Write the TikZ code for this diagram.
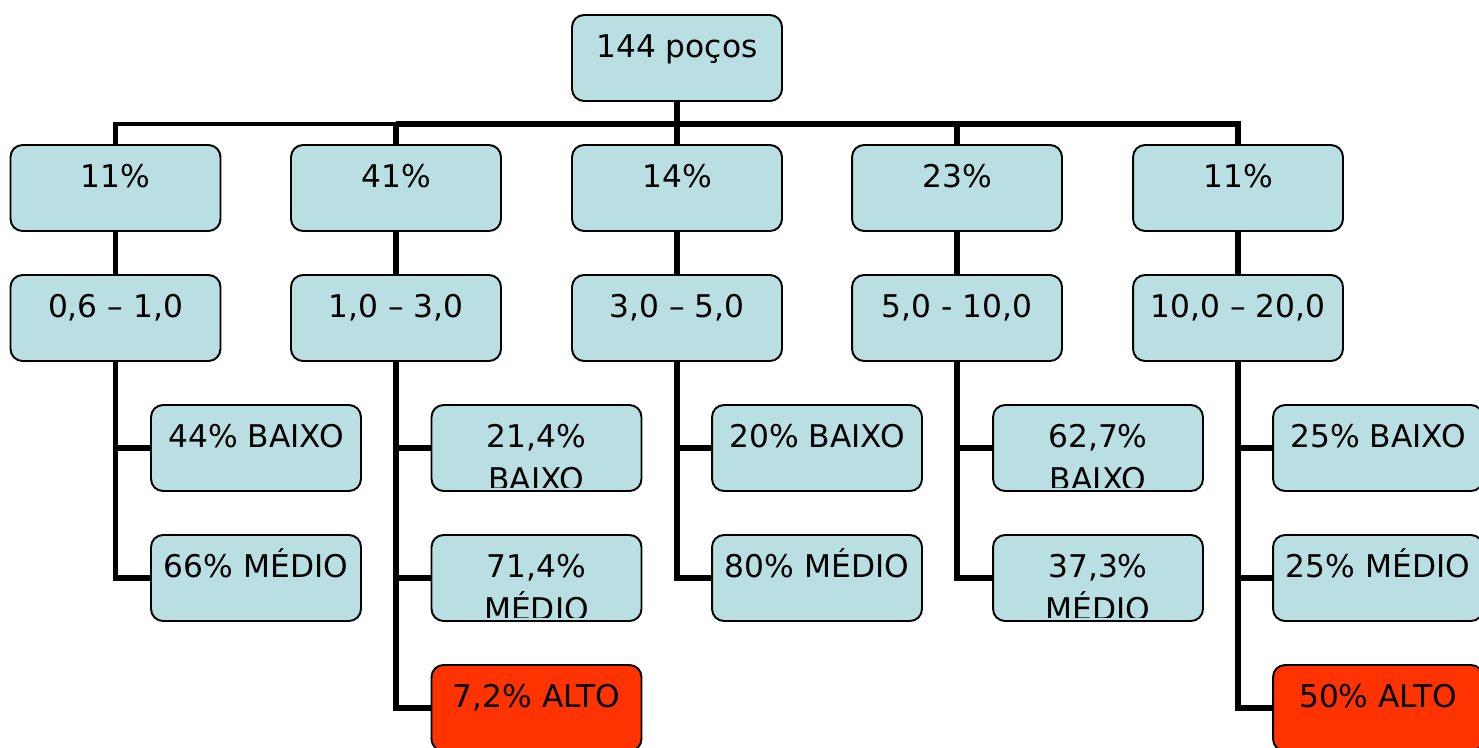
\documentclass[tikz,border=0pt]{standalone}
\usepackage{fontspec}
\setmainfont{DejaVu Sans}
\definecolor{boxblue}{HTML}{B9DFE3}
\definecolor{boxred}{HTML}{FF3300}
\begin{document}
\begin{tikzpicture}[x=0.02cm,y=-0.02cm,
  box/.style={draw=black, line width=1.1pt, rounded corners=0.24cm, fill=boxblue,
    minimum width=4.2cm, minimum height=1.72cm, inner sep=0pt},
  redbox/.style={box, fill=boxred},
  lbl/.style={anchor=base, font=\fontsize{17.8}{21}\selectfont, inner sep=0pt},
  conn/.style={line width=2.9pt},
  thinconn/.style={line width=2.5pt},
  busline/.style={line width=3.7pt}]
\useasboundingbox (0,0) rectangle (1479,747);
\clip (0,0) rectangle (1479,747);

% root and levels
\node[box] (root) at (677,58) {};
\foreach \n/\x in {a/115.5,b/396,c/677,d/957,e/1238}{
  \node[box] (p\n) at (\x,188) {};
  \node[box] (r\n) at (\x,318) {};
}
% leaves
\node[box] (a1) at (256,448) {};
\node[box] (a2) at (256,578) {};
\node[box] (b1) at (536.5,448) {};
\node[box] (b2) at (536.5,578) {};
\node[redbox] (b3) at (536.5,708) {};
\node[box] (c1) at (817,448) {};
\node[box] (c2) at (817,578) {};
\node[box] (d1) at (1098,448) {};
\node[box] (d2) at (1098,578) {};
\node[box] (e1) at (1378,448) {};
\node[box] (e2) at (1378,578) {};
\node[redbox] (e3) at (1378,708) {};

% connectors
\coordinate (bus) at (0,124);
\draw[conn] (root.south) -- (root.south |- bus);
\draw[thinconn] (pa.north) -- (pa.north |- bus) -- (pb.north |- bus);
\draw[busline] (pb.north |- bus) -- (pe.north |- bus) -- (pe.north);
\foreach \n in {b,c,d}{
  \draw[conn] (p\n.north |- bus) -- (p\n.north);
}
\foreach \n in {a,b,c,d,e}{
  \draw[conn] (p\n.south) -- (r\n.north);
}
\draw[conn] (ra.south) |- (a2.west);
\draw[conn] (ra.south |- a1.west) -- (a1.west);
\draw[conn] (rb.south) |- (b3.west);
\draw[conn] (rb.south |- b1.west) -- (b1.west);
\draw[conn] (rb.south |- b2.west) -- (b2.west);
\draw[conn] (rc.south) |- (c2.west);
\draw[conn] (rc.south |- c1.west) -- (c1.west);
\draw[conn] (rd.south) |- (d2.west);
\draw[conn] (rd.south |- d1.west) -- (d1.west);
\draw[conn] (re.south) |- (e3.west);
\draw[conn] (re.south |- e1.west) -- (e1.west);
\draw[conn] (re.south |- e2.west) -- (e2.west);

% labels
\node[lbl] (troot) at ([yshift=-0.86cm]root.north) {144 poços};
\node[lbl] (tpa) at ([yshift=-0.86cm]pa.north) {11\%};
\node[lbl] (tpb) at ([yshift=-0.86cm]pb.north) {41\%};
\node[lbl] (tpc) at ([yshift=-0.86cm]pc.north) {14\%};
\node[lbl] (tpd) at ([yshift=-0.86cm]pd.north) {23\%};
\node[lbl] (tpe) at ([yshift=-0.86cm]pe.north) {11\%};
\node[lbl] (tra) at ([yshift=-0.86cm]ra.north) {0,6 – 1,0};
\node[lbl] (trb) at ([yshift=-0.86cm]rb.north) {1,0 – 3,0};
\node[lbl] (trc) at ([yshift=-0.86cm]rc.north) {3,0 – 5,0};
\node[lbl] (trd) at ([yshift=-0.86cm]rd.north) {5,0 - 10,0};
\node[lbl] (tre) at ([yshift=-0.86cm]re.north) {10,0 – 20,0};
\node[lbl] (ta1) at ([yshift=-0.86cm]a1.north) {44\% BAIXO};
\node[lbl] (ta2) at ([yshift=-0.86cm]a2.north) {66\% MÉDIO};
\node[lbl] (tb3) at ([yshift=-0.86cm]b3.north) {7,2\% ALTO};
\node[lbl] (tc1) at ([yshift=-0.86cm]c1.north) {20\% BAIXO};
\node[lbl] (tc2) at ([yshift=-0.86cm]c2.north) {80\% MÉDIO};
\node[lbl] (te1) at ([yshift=-0.86cm]e1.north) {25\% BAIXO};
\node[lbl] (te2) at ([yshift=-0.86cm]e2.north) {25\% MÉDIO};
\node[lbl] (te3) at ([yshift=-0.86cm]e3.north) {50\% ALTO};

% two-line labels, cut off by the box bottom
\foreach \n/\a/\b in {b1/21{,}4\%/BAIXO, b2/71{,}4\%/MÉDIO, d1/62{,}7\%/BAIXO, d2/37{,}3\%/MÉDIO}{
  \begin{scope}
    \clip (\n.north west) rectangle ([yshift=0.09cm]\n.south east);
    \node[lbl] (t\n a) at ([yshift=-0.86cm]\n.north) {\a};
    \node[lbl] (t\n b) at ([yshift=-1.72cm]\n.north) {\b};
  \end{scope}
}
\end{tikzpicture}
\end{document}
